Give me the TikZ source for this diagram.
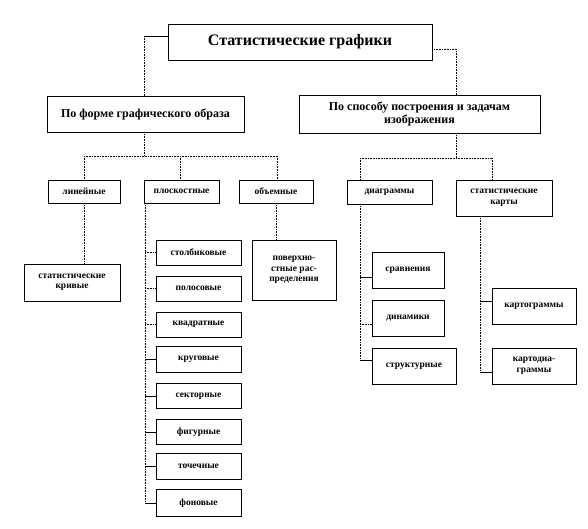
\documentclass[tikz,border=0pt]{standalone}
\usepackage{fontspec}
\setmainfont{Liberation Serif}
\begin{document}
\begin{tikzpicture}[x=1pt,y=-1pt,
  box/.style={draw=black,line width=0.7pt,inner sep=1pt,align=center,font=\fontsize{9.5}{10.5}\selectfont\bfseries},
  dotc/.style={draw=black,line width=0.6pt,densely dotted},
  solc/.style={draw=black,line width=0.6pt}]
\useasboundingbox (0,0) rectangle (588,528);
% level 0
\node[box,minimum width=264,minimum height=36,font=\fontsize{16}{18}\selectfont\bfseries] (main) at (300,42) {Статистические графики};
% level 1
\node[box,minimum width=197,minimum height=36,font=\fontsize{12}{13}\selectfont\bfseries] (forma) at (145.5,114) {По форме графического образа};
\node[box,minimum width=241,minimum height=38,font=\fontsize{12}{13}\selectfont\bfseries] (sposob) at (419.5,114) {По способу построения и задачам\\изображения};
% level 2
\node[box,minimum width=72,minimum height=23] (lin) at (84,191.5) {линейные};
\node[box,minimum width=75,minimum height=23] (plos) at (181.5,191.5) {плоскостные};
\node[box,minimum width=74,minimum height=23] (obj) at (276,191.5) {объемные};
\node[box,minimum width=85,minimum height=24] (diag) at (389.5,192) {диаграммы};
\node[box,minimum width=96,minimum height=36] (karty) at (504,198) {статистические\\карты};
% level 3
\node[box,minimum width=96,minimum height=37] (kriv) at (72,282.5) {статистические\\кривые};
\node[box,minimum width=85,minimum height=25] (stol) at (198.5,252.5) {столбиковые};
\node[box,minimum width=85,minimum height=25] (polos) at (198.5,288.5) {полосовые};
\node[box,minimum width=85,minimum height=25] (kvad) at (198.5,324.5) {квадратные};
\node[box,minimum width=85,minimum height=26] (krug) at (198.5,359) {круговые};
\node[box,minimum width=85,minimum height=25] (sekt) at (198.5,396) {секторные};
\node[box,minimum width=85,minimum height=25] (figur) at (198.5,432) {фигурные};
\node[box,minimum width=85,minimum height=26] (toch) at (198.5,466.5) {точечные};
\node[box,minimum width=85,minimum height=27] (fon) at (198.5,503) {фоновые};
\node[box,minimum width=84,minimum height=60] (pover) at (294,270) {поверхно-\\стные рас-\\пределения};
\node[box,minimum width=72,minimum height=36] (srav) at (408,270) {сравнения};
\node[box,minimum width=72,minimum height=36] (dinam) at (408,318) {динамики};
\node[box,minimum width=84,minimum height=36] (struk) at (414,366) {структурные};
\node[box,minimum width=84,minimum height=36] (kgram) at (534,306) {картограммы};
\node[box,minimum width=84,minimum height=36] (kdiag) at (534,366) {картодиа-\\граммы};
% bend coordinates
\coordinate (lb) at (144,36);
\coordinate (rb) at (456,49);
\coordinate (fb) at (144,156);
\coordinate (sb) at (456,158);
\coordinate (fl) at (84,156);
\coordinate (fm) at (180,156);
\coordinate (fr) at (277,156);
\coordinate (sl) at (360,158);
\coordinate (sr) at (492,158);
\coordinate (pv) at (145,0);
\coordinate (s1) at (360,277);
\coordinate (s2) at (360,324);
\coordinate (s3) at (360,360);
\coordinate (k1) at (480,301);
\coordinate (k2) at (480,372);
% connectors level 0 -> 1
\draw[solc] (main.west|-lb) -- (lb);
\draw[dotc] (lb) -- (lb|-forma.north);
\draw[dotc] (main.east|-rb) -- (rb) -- (rb|-sposob.north);
% level 1 -> 2
\draw[dotc] (fb|-forma.south) -- (fb);
\draw[dotc] (fl) -- (fr);
\draw[dotc] (fl) -- (fl|-lin.north);
\draw[dotc] (fm) -- (fm|-plos.north);
\draw[dotc] (fr) -- (fr|-obj.north);
\draw[dotc] (sb|-sposob.south) -- (sb);
\draw[dotc] (sl) -- (sr);
\draw[dotc] (sl) -- (sl|-diag.north);
\draw[dotc] (sr) -- (sr|-karty.north);
% level 2 -> 3
\draw[dotc] (lin.south) -- (lin.south|-kriv.north);
\draw[dotc] (obj.south) -- (obj.south|-pover.north);
\draw[dotc] (pv|-plos.south) -- (pv|-fon.west);
\draw[dotc] (pv|-stol.west) -- (stol.west);
\draw[dotc] (pv|-polos.west) -- (polos.west);
\draw[dotc] (pv|-kvad.west) -- (kvad.west);
\draw[solc] (pv|-krug.west) -- (krug.west);
\draw[solc] (pv|-sekt.west) -- (sekt.west);
\draw[solc] (pv|-figur.west) -- (figur.west);
\draw[solc] (pv|-toch.west) -- (toch.west);
\draw[solc] (pv|-fon.west) -- (fon.west);
\draw[dotc] (sl|-diag.south) -- (s3);
\draw[solc] (s1) -- (s1-|srav.west);
\draw[dotc] (s2) -- (s2-|dinam.west);
\draw[solc] (s3) -- (s3-|struk.west);
\draw[dotc] (k1|-karty.south) -- (k2);
\draw[solc] (k1) -- (k1-|kgram.west);
\draw[solc] (k2) -- (k2-|kdiag.west);
\end{tikzpicture}
\end{document}
